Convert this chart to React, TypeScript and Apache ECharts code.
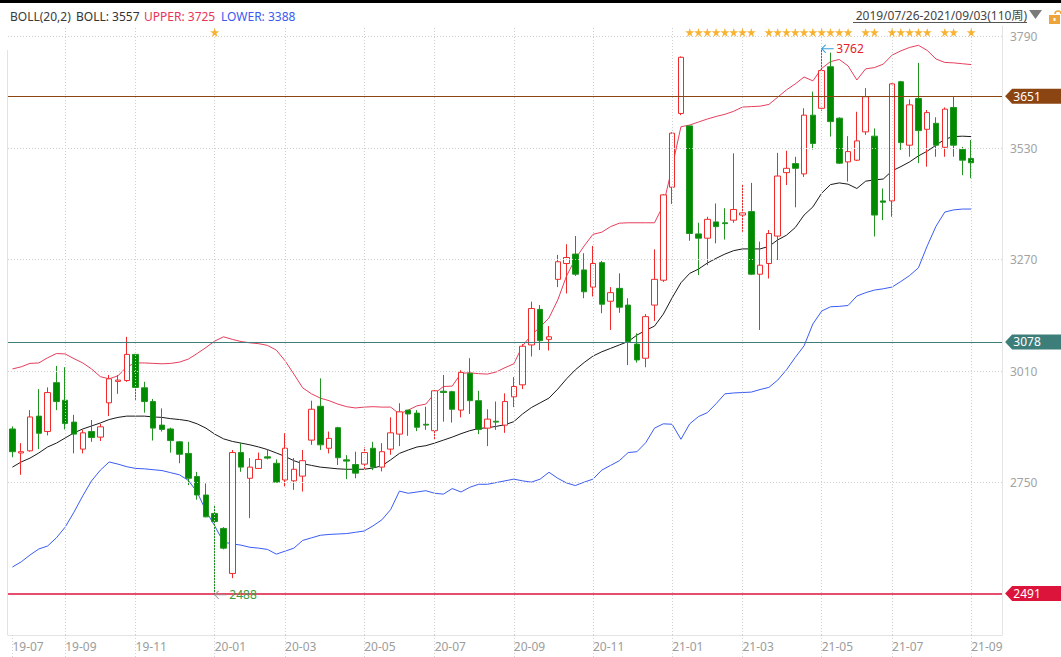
import React, { useEffect, useRef } from 'react';
import * as echarts from 'echarts';

const dates = [
  '2019-07-26','2019-08-02','2019-08-09','2019-08-16','2019-08-23','2019-08-30','2019-09-06','2019-09-12','2019-09-20','2019-09-27',
  '2019-09-30','2019-10-11','2019-10-18','2019-10-25','2019-11-01','2019-11-08','2019-11-15','2019-11-22','2019-11-29','2019-12-06',
  '2019-12-13','2019-12-20','2019-12-27','2020-01-03','2020-01-10','2020-01-17','2020-01-23','2020-02-07','2020-02-14','2020-02-21',
  '2020-02-28','2020-03-06','2020-03-13','2020-03-20','2020-03-27','2020-04-03','2020-04-10','2020-04-17','2020-04-24','2020-04-30',
  '2020-05-08','2020-05-15','2020-05-22','2020-05-29','2020-06-05','2020-06-12','2020-06-19','2020-06-24','2020-07-03','2020-07-10',
  '2020-07-17','2020-07-24','2020-07-31','2020-08-07','2020-08-14','2020-08-21','2020-08-28','2020-09-04','2020-09-11','2020-09-18',
  '2020-09-25','2020-09-30','2020-10-09','2020-10-16','2020-10-23','2020-10-30','2020-11-06','2020-11-13','2020-11-20','2020-11-27',
  '2020-12-04','2020-12-11','2020-12-18','2020-12-25','2020-12-31','2021-01-08','2021-01-15','2021-01-22','2021-01-29','2021-02-05',
  '2021-02-10','2021-02-19','2021-02-26','2021-03-05','2021-03-12','2021-03-19','2021-03-26','2021-04-02','2021-04-09','2021-04-16',
  '2021-04-23','2021-04-30','2021-05-07','2021-05-14','2021-05-21','2021-05-28','2021-06-04','2021-06-11','2021-06-18','2021-06-25',
  '2021-07-02','2021-07-09','2021-07-16','2021-07-23','2021-07-30','2021-08-06','2021-08-13','2021-08-20','2021-08-27','2021-09-03'
];
const emptySlots = ['p1', 'p2', 'p3'];

const opens = [
  2875,2819,2824,2905,2869,2983,2942,2891,2828,2869,
  2856,2936,2986,2988,3049,2971,2939,2884,2875,2845,
  2818,2764,2721,2678,2643,2538,2820,2760,2783,2810,
  2795,2756,2754,2765,2849,2928,2830,2878,2803,2792,
  2793,2830,2786,2828,2863,2919,2912,2886,2871,2963,
  2962,2919,3005,2941,2877,2893,2884,2950,2978,3071,
  3154,3084,3224,3261,3283,3246,3206,3263,3173,3203,
  3164,3073,3040,3164,3222,3439,3611,3582,3330,3320,
  3358,3356,3362,3374,3382,3236,3261,3325,3473,3494,
  3470,3607,3623,3720,3600,3498,3502,3568,3558,3407,
  3407,3685,3537,3646,3574,3588,3532,3625,3527,3506
];
const closes = [
  2822,2822,2903,2865,2960,2939,2888,2863,2866,2855,
  2880,2992,2989,3049,2972,2939,2877,2874,2848,2816,
  2760,2721,2670,2659,2597,2820,2786,2786,2804,2807,
  2751,2830,2781,2801,2921,2838,2853,2808,2800,2772,
  2820,2786,2822,2866,2915,2910,2879,2884,2964,2960,
  2921,3007,2941,2874,2898,2891,2939,2974,3068,3156,
  3081,3090,3265,3275,3236,3195,3261,3166,3193,3159,
  3079,3036,3137,3224,3421,3565,3742,3331,3320,3364,
  3347,3354,3387,3379,3236,3257,3331,3465,3483,3483,
  3607,3541,3711,3592,3495,3522,3547,3650,3374,3404,
  3680,3543,3631,3571,3613,3537,3621,3537,3502,3496
];
const lows = [
  2809,2768,2822,2828,2860,2919,2874,2818,2818,2845,
  2847,2905,2957,2985,2943,2913,2848,2869,2820,2795,
  2744,2710,2669,2488,2594,2527,2775,2667,2783,2804,
  2751,2741,2733,2729,2838,2826,2818,2791,2758,2760,
  2779,2779,2776,2815,2835,2859,2870,2873,2851,2892,
  2890,2902,2910,2863,2835,2873,2866,2926,2968,3044,
  3059,3058,3206,3191,3232,3180,3184,3145,3106,3146,
  3024,3030,3019,3127,3218,3400,3607,3314,3234,3257,
  3308,3317,3356,3335,3234,3106,3226,3269,3444,3392,
  3463,3527,3617,3557,3493,3452,3500,3561,3324,3362,
  3370,3526,3510,3495,3487,3510,3510,3510,3467,3460
];
const highs = [
  2881,2842,2919,2968,2972,3022,3019,2908,2873,2896,
  2887,3001,3001,3090,3049,2985,2945,2923,2878,2847,
  2845,2775,2748,2698,2646,2826,2842,2807,2820,2826,
  2804,2865,2807,2826,2941,2993,2869,2880,2814,2822,
  2832,2845,2842,2902,2935,2919,2919,2927,2966,3001,
  2964,3012,3040,2964,2921,2939,2958,2996,3073,3172,
  3164,3115,3281,3306,3325,3285,3302,3267,3206,3238,
  3180,3098,3143,3294,3423,3567,3744,3582,3356,3370,
  3401,3390,3518,3446,3449,3312,3339,3519,3524,3510,
  3623,3662,3762,3753,3602,3558,3615,3670,3576,3436,
  3682,3687,3644,3729,3619,3602,3625,3650,3533,3549
];

const bollMid = [
  2786,2798,2807,2819,2833,2842,2854,2866,2875,2882,
  2889,2897,2902,2905,2905,2905,2903,2902,2899,2897,
  2894,2887,2877,2863,2852,2846,2842,2838,2833,2827,
  2819,2811,2801,2794,2790,2786,2784,2782,2781,2781,
  2781,2784,2789,2803,2818,2826,2833,2836,2842,2849,
  2856,2864,2871,2876,2878,2881,2885,2892,2910,2925,
  2936,2947,2968,2992,3013,3030,3045,3055,3063,3071,
  3079,3094,3105,3115,3143,3181,3216,3238,3248,3262,
  3273,3283,3291,3295,3295,3295,3301,3316,3327,3345,
  3374,3393,3425,3445,3449,3446,3436,3453,3456,3458,
  3477,3487,3498,3512,3523,3537,3551,3557,3558,3557
];
const bollUpper = [
  3015,3020,3028,3029,3041,3051,3050,3039,3029,3015,
  2997,2992,2999,3020,3029,3029,3028,3027,3028,3031,
  3038,3051,3065,3080,3090,3084,3079,3076,3074,3070,
  3059,3034,3003,2971,2957,2947,2941,2933,2927,2924,
  2926,2927,2926,2926,2910,2919,2929,2933,2958,2974,
  2975,3005,3006,3004,3003,3008,3018,3027,3069,3094,
  3113,3134,3176,3232,3272,3302,3329,3334,3347,3355,
  3356,3356,3356,3356,3397,3486,3580,3584,3591,3598,
  3604,3609,3616,3626,3627,3628,3632,3649,3666,3680,
  3696,3687,3716,3732,3737,3722,3689,3715,3718,3726,
  3747,3757,3765,3770,3758,3738,3730,3729,3727,3725
];
const bollLower = [
  2553,2565,2581,2595,2602,2621,2646,2681,2719,2754,
  2779,2798,2793,2787,2783,2782,2780,2778,2773,2768,
  2755,2728,2684,2649,2611,2607,2604,2599,2597,2594,
  2583,2590,2597,2615,2621,2627,2629,2630,2631,2634,
  2637,2649,2663,2687,2730,2725,2728,2731,2725,2723,
  2736,2728,2739,2746,2746,2750,2754,2758,2754,2751,
  2758,2774,2760,2749,2743,2751,2758,2779,2790,2801,
  2820,2822,2843,2877,2887,2886,2851,2887,2904,2913,
  2934,2957,2959,2960,2961,2967,2972,2989,3013,3042,
  3069,3120,3150,3160,3161,3163,3185,3193,3199,3202,
  3206,3219,3233,3251,3302,3348,3381,3386,3388,3388
];

const yTicks = [2750, 3010, 3270, 3530, 3790];
const xTickIndex = [0, 6, 14, 23, 31, 40, 48, 57, 66, 75, 83, 92, 100, 109];
const xTickLabels = ['19-07','19-09','19-11','20-01','20-03','20-05','20-07','20-09','20-11','21-01','21-03','21-05','21-07','21-09'];

const priceLevels = [3651, 3078, 2491];
const levelColors = ['#8b4513', '#3e7e7a', '#dc143c'];
const levelWidths = [1, 1, 1.5];

const starBars = [23, 77,78,79,80,81,82,83,84, 86,87,88,89,90,91,92,93,94,95, 97,98, 100,101,102,103,104, 106,107, 109];

const highMark = { index: 92, value: 3762 };
const lowMark = { index: 23, value: 2488 };

const Y_MIN = 2394.4;
const Y_MAX = 3815;
const STAR_LEVEL = 3800;

const FONT = '"Noto Sans", "Noto Sans CJK SC", sans-serif';
const STAR_PATH = 'path://M50,0L61.8,35.1L98.9,35.1L68.8,56.8L80.2,91.9L50,70.2L19.8,91.9L31.2,56.8L1.1,35.1L38.2,35.1Z';
const ARROW_PATH = 'path://M4,0L0,4L4,8M0,4L12,4';
const TAG_PATH = 'path://M0,7.5L7,0L56,0L56,15L7,15Z';

export default function App() {
  const ref = useRef<HTMLDivElement>(null);

  useEffect(() => {
    if (!ref.current) return;
    const chart = echarts.init(ref.current, undefined, { renderer: 'svg' });

    const categories = [...dates, ...emptySlots];
    const kData = dates.map((_, i) => [opens[i], closes[i], lows[i], highs[i]]);
    const tickSet = new Set(xTickIndex);
    const labelMap: Record<number, string> = {};
    xTickIndex.forEach((idx, k) => { labelMap[idx] = xTickLabels[k]; });
    const lastCat = categories.length - 1;
    const last = dates.length - 1;

    const levelSeries = priceLevels.map((v, k) => ({
      name: `level${k}`,
      type: 'line',
      data: [],
      silent: true,
      z: 6,
      color: levelColors[k],
      markLine: {
        silent: true,
        animation: false,
        symbol: ['none', 'none'],
        label: { show: false },
        lineStyle: { color: levelColors[k], width: levelWidths[k], type: 'solid', opacity: 1 },
        data: [{ yAxis: v }],
      },
      markPoint: {
        silent: true,
        animation: false,
        data: [{
          coord: [lastCat, v],
          symbol: TAG_PATH,
          symbolSize: [56, 15],
          symbolOffset: [35.5, 0],
          itemStyle: { color: levelColors[k] },
          label: {
            show: true,
            position: 'inside',
            offset: [-6, 0],
            formatter: String(v),
            color: '#ffffff',
            fontSize: 12,
            fontFamily: FONT,
          },
        }],
      },
    }));

    const option: any = {
      animation: false,
      backgroundColor: '#ffffff',
      grid: { left: 8, right: 59, top: 26, bottom: 22, containLabel: false },
      xAxis: {
        type: 'category',
        data: categories,
        boundaryGap: true,
        axisLine: { show: true, lineStyle: { color: '#e4e4e4' } },
        axisTick: {
          show: true,
          alignWithLabel: true,
          interval: (i: number) => tickSet.has(i),
          length: 22,
          lineStyle: { color: '#d4d4d4', type: [1, 2] },
        },
        axisLabel: {
          show: true,
          interval: (i: number) => tickSet.has(i),
          formatter: (_v: string, i: number) => labelMap[i] || '',
          align: 'left',
          color: '#9c9c9c',
          fontSize: 12,
          fontFamily: FONT,
          margin: 5,
        },
        splitLine: { show: false },
      },
      yAxis: {
        type: 'value',
        position: 'right',
        min: Y_MIN,
        max: Y_MAX,
        axisLine: { show: true, lineStyle: { color: '#e4e4e4' } },
        axisTick: { show: false },
        axisLabel: { show: false },
        splitLine: { show: false },
      },
      series: [
        {
          name: 'grid',
          type: 'line',
          data: [],
          silent: true,
          z: 1,
          markLine: {
            silent: true,
            animation: false,
            symbol: ['none', 'none'],
            lineStyle: { color: '#cfcfcf', width: 1, type: [1, 2] },
            data: [
              ...yTicks.map((v) => ({
                yAxis: v,
                label: {
                  show: true,
                  position: 'end',
                  distance: 8,
                  formatter: String(v),
                  color: '#a3a3a3',
                  fontSize: 12,
                  fontFamily: FONT,
                },
              })),
              ...xTickIndex.slice(1).map((i) => ({ xAxis: i, label: { show: false } })),
            ],
          },
        },
        {
          name: 'UPPER',
          type: 'line',
          data: bollUpper,
          symbol: 'none',
          silent: true,
          z: 2,
          lineStyle: { color: '#e63e5c', width: 1 },
        },
        {
          name: 'LOWER',
          type: 'line',
          data: bollLower,
          symbol: 'none',
          silent: true,
          z: 2,
          lineStyle: { color: '#3a5cf2', width: 1 },
        },
        {
          name: 'BOLL',
          type: 'line',
          data: bollMid,
          symbol: 'none',
          silent: true,
          z: 2,
          lineStyle: { color: '#1a1a1a', width: 1 },
        },
        {
          name: 'K',
          type: 'candlestick',
          data: kData,
          barWidth: 6,
          silent: true,
          z: 3,
          itemStyle: {
            color: '#ffffff',
            color0: '#008a00',
            borderColor: '#f22a2a',
            borderColor0: '#1f941f',
            borderWidth: 1,
          },
          markPoint: {
            silent: true,
            animation: false,
            data: [
              {
                coord: [highMark.index, highMark.value],
                symbol: ARROW_PATH,
                symbolSize: [12, 8],
                symbolOffset: [6, 0],
                itemStyle: { color: 'rgba(0,0,0,0)', borderColor: '#3b9fd6', borderWidth: 1 },
                label: {
                  show: true,
                  position: 'right',
                  distance: 2,
                  formatter: String(highMark.value),
                  color: '#e4202a',
                  fontSize: 12,
                  fontFamily: FONT,
                },
              },
              {
                coord: [lowMark.index, lowMark.value],
                symbol: ARROW_PATH,
                symbolSize: [12, 8],
                symbolOffset: [6, 0],
                itemStyle: { color: 'rgba(0,0,0,0)', borderColor: '#999999', borderWidth: 1 },
                label: {
                  show: true,
                  position: 'right',
                  distance: 2,
                  formatter: String(lowMark.value),
                  color: '#3f9a3f',
                  fontSize: 12,
                  fontFamily: FONT,
                },
              },
            ],
          },
        },
        ...levelSeries,
        {
          name: 'stars',
          type: 'scatter',
          data: starBars.map((i) => [i, STAR_LEVEL]),
          symbol: STAR_PATH,
          symbolSize: 9,
          silent: true,
          z: 5,
          itemStyle: { color: '#f7a000' },
        },
      ],
      graphic: [
        { type: 'rect', shape: { x: 0, y: 0, width: 1061, height: 3 }, style: { fill: '#000000' }, silent: true },
        { type: 'line', shape: { x1: 7.5, y1: 50, x2: 7.5, y2: 635 }, style: { stroke: '#e2e2e2', lineWidth: 1 }, silent: true },
        {
          type: 'text', x: 10, y: 16, silent: true,
          style: { text: 'BOLL(20,2)', fill: '#3a3a3a', font: `12px ${FONT}`, textVerticalAlign: 'middle' },
        },
        {
          type: 'text', x: 76, y: 16, silent: true,
          style: { text: `BOLL: ${bollMid[last]}`, fill: '#333333', font: `12px ${FONT}`, textVerticalAlign: 'middle' },
        },
        {
          type: 'text', x: 144, y: 16, silent: true,
          style: { text: `UPPER: ${bollUpper[last]}`, fill: '#e8345a', font: `12px ${FONT}`, textVerticalAlign: 'middle' },
        },
        {
          type: 'text', x: 221, y: 16, silent: true,
          style: { text: `LOWER: ${bollLower[last]}`, fill: '#3a5af0', font: `12px ${FONT}`, textVerticalAlign: 'middle' },
        },
        {
          type: 'text', x: 1027, y: 15, silent: true,
          style: {
            text: `${dates[0].replace(/-/g, '/')}-${dates[last].replace(/-/g, '/')}(${dates.length}周)`,
            fill: '#444444', font: `12px ${FONT}`, textAlign: 'right', textVerticalAlign: 'middle',
          },
        },
        { type: 'line', shape: { x1: 853, y1: 22.5, x2: 1027, y2: 22.5 }, style: { stroke: '#555555', lineWidth: 1 }, silent: true },
        { type: 'polygon', shape: { points: [[1029, 10], [1042, 10], [1035.5, 19]] }, style: { fill: '#7a7a7a' }, silent: true },
        { type: 'rect', shape: { x: 1049, y: 15, width: 11, height: 9 }, style: { fill: '#eda43a' }, silent: true },
        { type: 'rect', shape: { x: 1053.5, y: 18, width: 2, height: 3 }, style: { fill: '#ffffff' }, silent: true },
        {
          type: 'arc', shape: { cx: 1058, cy: 14, r: 3, startAngle: Math.PI, endAngle: 2 * Math.PI }, silent: true,
          style: { stroke: '#eda43a', lineWidth: 1.5, fill: 'none' },
        },
      ],
    };

    chart.setOption(option);
    return () => chart.dispose();
  }, []);

  return (
    <div
      ref={ref}
      style={{ position: 'fixed', left: 0, top: 0, width: 1061, height: 657, background: '#fff' }}
    />
  );
}
